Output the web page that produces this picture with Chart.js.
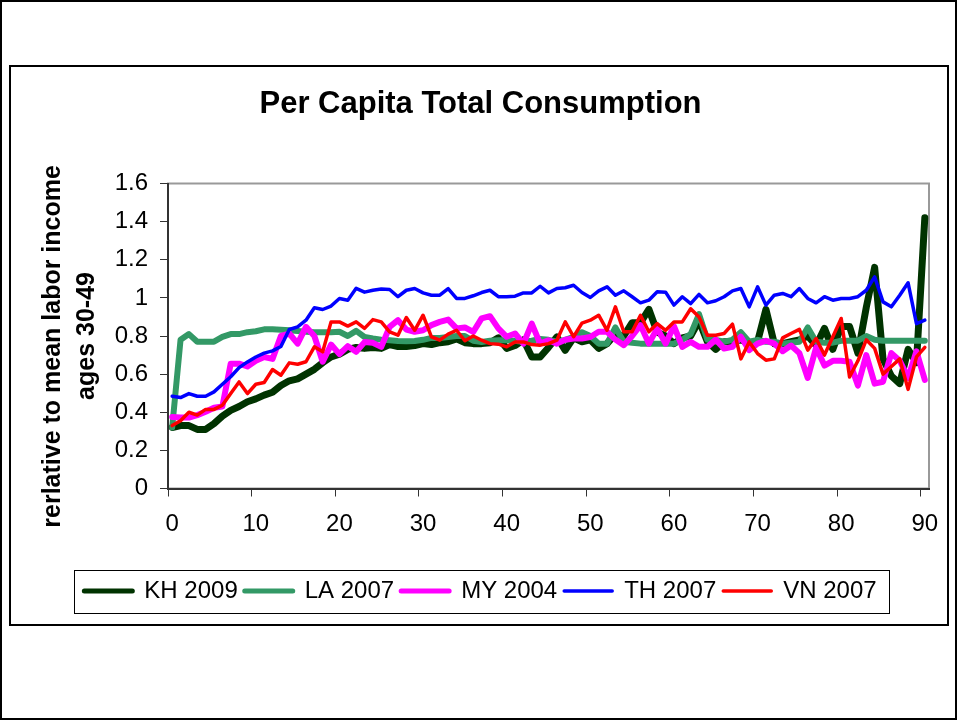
<!DOCTYPE html>
<html>
<head>
<meta charset="utf-8">
<title>Per Capita Total Consumption</title>
<script src="https://cdn.jsdelivr.net/npm/chart.js@4.4.1/dist/chart.umd.min.js"></script>
<style>
  body { margin: 0; background: #fff; }
  #page { position: relative; width: 957px; height: 720px; box-sizing: border-box; border: 2px solid #000; background: #fff; }
  #box { position: absolute; left: 7px; top: 63px; width: 940px; height: 561px; box-sizing: border-box; border: 2px solid #000; }
  #wrap { position: absolute; left: 20px; top: 65px; width: 917px; height: 556px; }
</style>
</head>
<body>
<div id="page">
  <div id="box"></div>
  <div id="wrap"><canvas id="chart" width="917" height="556"></canvas></div>
</div>
<script>
// ages 0..90 are the categories
var ages = Array.from({ length: 91 }, function (_, i) { return i; });
var xTickLabels = [0, 10, 20, 30, 40, 50, 60, 70, 80, 90];
var yTicks = [0, 0.2, 0.4, 0.6, 0.8, 1, 1.2, 1.4, 1.6];

var seriesNames = ['KH 2009', 'LA 2007', 'MY 2004', 'TH 2007', 'VN 2007'];

var kh2009 = [0.32, 0.33, 0.33, 0.31, 0.31, 0.34, 0.38, 0.41, 0.43, 0.455,
  0.47, 0.49, 0.505, 0.54, 0.565, 0.575, 0.6, 0.625, 0.66, 0.69,
  0.705, 0.73, 0.74, 0.735, 0.74, 0.735, 0.755, 0.745, 0.745, 0.75,
  0.76, 0.755, 0.765, 0.77, 0.785, 0.765, 0.76, 0.76, 0.765, 0.79,
  0.735, 0.75, 0.78, 0.69, 0.69, 0.74, 0.795, 0.725, 0.79, 0.77,
  0.78, 0.735, 0.76, 0.81, 0.8, 0.87, 0.87, 0.94, 0.82, 0.8,
  0.76, 0.79, 0.8, 0.88, 0.77, 0.73, 0.77, 0.77, 0.78, 0.76,
  0.77, 0.94, 0.76, 0.76, 0.77, 0.78, 0.8, 0.75, 0.84, 0.73,
  0.85, 0.85, 0.71, 0.95, 1.16, 0.68, 0.59, 0.55, 0.73, 0.66,
  1.42];

var la2007 = [0.32, 0.78, 0.81, 0.77, 0.77, 0.77, 0.795, 0.81, 0.81, 0.82,
  0.825, 0.835, 0.835, 0.833, 0.83, 0.826, 0.822, 0.82, 0.82, 0.82,
  0.822, 0.8, 0.827, 0.795, 0.787, 0.781, 0.778, 0.774, 0.773, 0.774,
  0.78, 0.79, 0.79, 0.795, 0.8, 0.8, 0.775, 0.769, 0.775, 0.778,
  0.778, 0.775, 0.769, 0.775, 0.785, 0.78, 0.77, 0.78, 0.795, 0.82,
  0.8, 0.76, 0.76, 0.845, 0.77, 0.765, 0.76, 0.76, 0.76, 0.76,
  0.76, 0.78, 0.81, 0.915, 0.78, 0.78, 0.77, 0.78, 0.82, 0.77,
  0.78, 0.77, 0.77, 0.76, 0.765, 0.77, 0.845, 0.77, 0.765, 0.765,
  0.775, 0.775, 0.775, 0.8, 0.78, 0.775, 0.775, 0.775, 0.775, 0.775,
  0.775];

var my2004 = [0.375, 0.372, 0.372, 0.385, 0.403, 0.424, 0.43, 0.655, 0.655, 0.64,
  0.67, 0.69, 0.68, 0.8, 0.813, 0.76, 0.848, 0.8, 0.665, 0.755,
  0.705, 0.747, 0.717, 0.768, 0.764, 0.743, 0.848, 0.883, 0.834, 0.822,
  0.83, 0.857, 0.874, 0.886, 0.84, 0.845, 0.822, 0.892, 0.904, 0.84,
  0.796, 0.813, 0.76, 0.865, 0.76, 0.778, 0.76, 0.78, 0.787, 0.787,
  0.795, 0.822, 0.822, 0.781, 0.752, 0.8, 0.857, 0.76, 0.84, 0.76,
  0.852, 0.743, 0.769, 0.743, 0.743, 0.781, 0.734, 0.743, 0.796, 0.726,
  0.76, 0.775, 0.76, 0.72, 0.75, 0.71, 0.58, 0.74, 0.645, 0.67,
  0.67, 0.665, 0.54, 0.7, 0.55, 0.56, 0.71, 0.67, 0.58, 0.72,
  0.57];

var th2007 = [0.484, 0.477, 0.498, 0.484, 0.484, 0.507, 0.547, 0.586, 0.634, 0.664,
  0.69, 0.71, 0.722, 0.745, 0.834, 0.848, 0.883, 0.948, 0.939, 0.957,
  0.997, 0.988, 1.05, 1.03, 1.04, 1.046, 1.044, 1.006, 1.04, 1.049,
  1.026, 1.014, 1.014, 1.049, 0.997, 0.997, 1.011, 1.028, 1.04, 1.006,
  1.006, 1.009, 1.026, 1.026, 1.061, 1.026, 1.049, 1.053, 1.066, 1.028,
  1.002, 1.037, 1.058, 1.014, 1.037, 1.006, 0.974, 0.988, 1.032, 1.03,
  0.962, 1.006, 0.97, 1.018, 0.974, 0.985, 1.006, 1.037, 1.049, 0.953,
  1.058, 0.962, 1.014, 1.023, 1.006, 1.049, 0.997, 0.974, 1.006, 0.988,
  0.997, 0.997, 1.006, 1.04, 1.11, 0.979, 0.953, 1.014, 1.079, 0.865,
  0.883];

var vn2007 = [0.33, 0.355, 0.4, 0.385, 0.415, 0.415, 0.437, 0.498, 0.559, 0.498,
  0.547, 0.556, 0.624, 0.594, 0.659, 0.652, 0.665, 0.743, 0.717, 0.874,
  0.874, 0.852, 0.874, 0.84, 0.886, 0.874, 0.822, 0.804, 0.897, 0.83,
  0.909, 0.796, 0.778, 0.81, 0.83, 0.775, 0.8, 0.778, 0.76, 0.757,
  0.743, 0.769, 0.769, 0.755, 0.752, 0.76, 0.778, 0.874, 0.796, 0.868,
  0.883, 0.909, 0.83, 0.953, 0.822, 0.822, 0.909, 0.822, 0.865, 0.83,
  0.874, 0.874, 0.943, 0.9, 0.804, 0.804, 0.813, 0.862, 0.68, 0.769,
  0.708, 0.673, 0.68, 0.79, 0.813, 0.835, 0.726, 0.787, 0.7, 0.796,
  0.892, 0.585, 0.67, 0.78, 0.735, 0.6, 0.64, 0.68, 0.52, 0.69,
  0.74];

var seriesValues = [kh2009, la2007, my2004, th2007, vn2007];
var colors = ['#003300', '#339966', '#ff00ff', '#0000ff', '#ff0000'];
var lineWidths = [7, 6, 6, 3.5, 3.5];
var legendLineWidths = [5, 5, 5, 3.5, 3.5];

Chart.defaults.font.family = "'Liberation Sans', Arial, sans-serif";
Chart.defaults.color = '#000';

var datasets = seriesValues.map(function (vals, i) {
  return {
    label: seriesNames[i],
    data: vals,
    borderColor: colors[i],
    backgroundColor: colors[i],
    borderWidth: lineWidths[i],
    borderJoinStyle: 'round',
    borderCapStyle: 'round',
    pointRadius: 0,
    tension: 0,
    order: seriesValues.length - i // later series on top, like excel
  };
});

// gray frame on top/right of the plot area, drawn before the axes
var plotFrame = {
  id: 'plotFrame',
  beforeDraw: function (chart) {
    var a = chart.chartArea, ctx = chart.ctx;
    ctx.save();
    ctx.strokeStyle = '#999';
    ctx.lineWidth = 2;
    ctx.strokeRect(a.left, a.top, a.right - a.left, a.bottom - a.top);
    ctx.restore();
  }
};

// box around the legend items
var legendBox = {
  id: 'legendBox',
  afterDraw: function (chart) {
    var hb = chart.legend.legendHitBoxes;
    if (!hb || !hb.length) return;
    var first = hb[0], last = hb[hb.length - 1];
    var x0 = first.left - 10, x1 = last.left + last.width + 13;
    var yc = first.top + first.height / 2;
    var ctx = chart.ctx;
    ctx.save();
    ctx.strokeStyle = '#000';
    ctx.lineWidth = 1;
    ctx.strokeRect(Math.round(x0) + 0.5, Math.round(yc - 21.5) + 0.5, Math.round(x1 - x0), 43);
    ctx.restore();
  }
};

new Chart(document.getElementById('chart'), {
  type: 'line',
  data: { labels: ages, datasets: datasets },
  plugins: [plotFrame, legendBox],
  options: {
    responsive: false,
    animation: false,
    devicePixelRatio: 1,
    layout: { padding: { left: 10, right: 10, top: 0, bottom: 10 } },
    plugins: {
      tooltip: { enabled: false },
      title: {
        display: true,
        text: 'Per Capita Total Consumption',
        color: '#000',
        font: { size: 31, weight: 'bold' },
        padding: { top: 19, bottom: 60.3 }
      },
      legend: {
        position: 'bottom',
        labels: {
          font: { size: 24 },
          color: '#000',
          padding: 7,
          usePointStyle: true,
          pointStyle: 'line',
          pointStyleWidth: 48,
          sort: function (a, b) { return a.datasetIndex - b.datasetIndex; },
          generateLabels: function (chart) {
            var items = Chart.defaults.plugins.legend.labels.generateLabels(chart);
            items.forEach(function (it) {
              it.pointStyle = 'line';
              it.strokeStyle = colors[it.datasetIndex];
              it.lineWidth = legendLineWidths[it.datasetIndex];
              it.lineCap = 'round';
            });
            return items;
          }
        }
      }
    },
    scales: {
      x: {
        type: 'category',
        offset: true,
        afterFit: function (scale) { scale.height = 83.5; },
        grid: {
          offset: true,
          drawOnChartArea: false,
          drawTicks: true,
          tickLength: 8,
          color: function (ctx) { return ctx.index % 10 === 0 ? '#333' : 'rgba(0,0,0,0)'; },
          tickColor: function (ctx) { return ctx.index % 10 === 0 ? '#333' : 'rgba(0,0,0,0)'; }
        },
        border: { display: true, color: '#333', width: 2 },
        ticks: {
          autoSkip: false,
          maxRotation: 0,
          minRotation: 0,
          padding: 0,
          color: '#000',
          font: { size: 24, lineHeight: '56px' },
          callback: function (value, index) {
            return xTickLabels.indexOf(ages[index]) >= 0 ? String(ages[index]) : '';
          }
        }
      },
      y: {
        min: 0,
        max: 1.6,
        afterFit: function (scale) { scale.width = 136; },
        afterBuildTicks: function (scale) {
          scale.ticks = yTicks.map(function (v) { return { value: v }; });
        },
        grid: {
          drawOnChartArea: false,
          drawTicks: true,
          tickLength: 8,
          color: '#333'
        },
        border: { display: true, color: '#333', width: 2 },
        ticks: {
          padding: 12,
          color: '#000',
          font: { size: 24 },
          callback: function (v) { return String(+(+v).toFixed(1)); }
        },
        title: {
          display: true,
          text: ['rerlative to mean labor income   ', 'ages 30-49'],
          color: '#000',
          font: { size: 25, weight: 'bold', lineHeight: 1.35 },
          padding: { top: 4, bottom: 0 }
        }
      }
    }
  }
});
</script>
</body>
</html>
